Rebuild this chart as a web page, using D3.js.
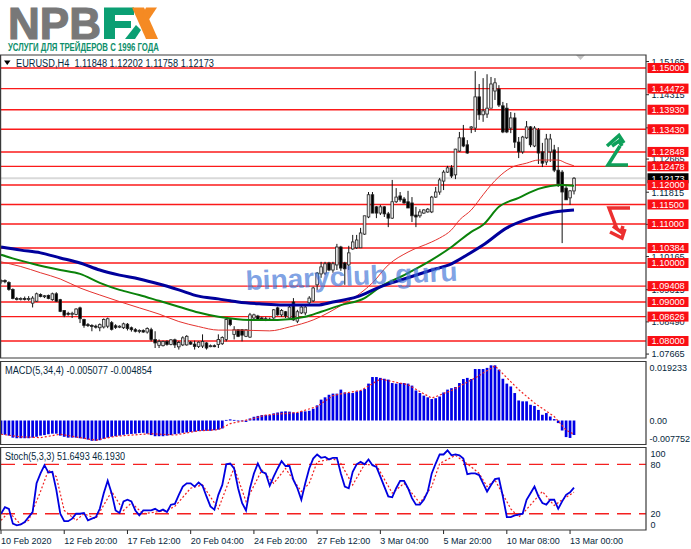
<!DOCTYPE html>
<html>
<head>
<meta charset="utf-8">
<script src="https://cdnjs.cloudflare.com/ajax/libs/d3/7.8.5/d3.min.js"></script>
<style>
html, body { margin: 0; padding: 0; background: #fff; }
svg { display: block; }
text { font-family: "Liberation Sans", sans-serif; }
</style>
</head>
<body>
<svg id="chart" width="691" height="549"></svg>
<script>
var opens = [
1.0952,1.0955,1.0950,1.0932,1.0909,1.0908,1.0909,1.0908,1.0897,1.0902,
1.0919,1.0914,1.0917,1.0906,1.0921,1.0906,1.0878,1.0871,1.0869,1.0868,
1.0885,1.0855,1.0842,1.0840,1.0838,1.0834,1.0836,1.0838,1.0847,1.0839,
1.0836,1.0834,1.0843,1.0834,1.0829,1.0825,1.0827,1.0823,1.0829,1.0804,
1.0789,1.0788,1.0799,1.0791,1.0803,1.0785,1.0790,1.0790,1.0797,1.0792,
1.0786,1.0787,1.0795,1.0786,1.0788,1.0791,1.0793,1.0804,1.0855,1.0817,
1.0829,1.0829,1.0812,1.0810,1.0859,1.0864,1.0859,1.0857,1.0856,1.0859,
1.0885,1.0867,1.0875,1.0859,1.0900,1.0851,1.0872,1.0872,1.0898,1.0903,
1.0944,1.0972,1.0974,1.1000,1.0982,1.0995,1.1041,1.1000,1.0995,1.1036,
1.1039,1.1039,1.1074,1.1118,1.1175,1.1144,1.1128,1.1144,1.1126,1.1115,
1.1157,1.1172,1.1164,1.1157,1.1154,1.1123,1.1121,1.1128,1.1131,1.1131,
1.1169,1.1182,1.1210,1.1233,1.1244,1.1226,1.1287,1.1321,1.1303,1.1346,
1.1346,1.1426,1.1380,1.1382,1.1397,1.1441,1.1446,1.1403,1.1397,1.1346,
1.1372,1.1310,1.1285,1.1321,1.1349,1.1300,1.1341,1.1285,1.1259,1.1285,
1.1290,1.1238,1.1233,1.1192,1.1167,1.11848];
var highs = [
1.0958,1.0958,1.0953,1.0935,1.0913,1.0912,1.0914,1.0915,1.0915,1.0924,
1.0922,1.0918,1.0919,1.0924,1.0925,1.0908,1.0879,1.0875,1.0875,1.0884,
1.0888,1.0857,1.0846,1.0843,1.0842,1.0845,1.0858,1.0860,1.0851,1.0843,
1.0840,1.0847,1.0846,1.0837,1.0833,1.0830,1.0830,1.0835,1.0834,1.0825,
1.0804,1.0801,1.0802,1.0805,1.0806,1.0800,1.0812,1.0815,1.0800,1.0801,
1.0799,1.0817,1.0797,1.0791,1.0791,1.0817,1.0812,1.0859,1.0859,1.0838,
1.0829,1.0830,1.0829,1.0872,1.0870,1.0867,1.0862,1.0862,1.0860,1.0882,
1.0888,1.0882,1.0877,1.0890,1.0910,1.0880,1.0892,1.0890,1.0915,1.0939,
1.0977,1.1003,1.1003,1.1003,1.1003,1.1049,1.1044,1.1003,1.1044,1.1072,
1.1072,1.1090,1.1121,1.1182,1.1182,1.1146,1.1149,1.1146,1.1131,1.1213,
1.1192,1.1182,1.1169,1.1185,1.1169,1.1144,1.1138,1.1138,1.1141,1.1172,
1.1195,1.1218,1.1238,1.1249,1.1251,1.1293,1.1336,1.1354,1.1315,1.1351,
1.1492,1.1459,1.1474,1.1484,1.1477,1.1474,1.1456,1.1413,1.1410,1.1387,
1.1385,1.1323,1.1326,1.1364,1.1351,1.1351,1.1346,1.1308,1.1331,1.1331,
1.1303,1.1297,1.1238,1.1197,1.1187,1.12202];
var lows = [
1.0947,1.0948,1.0929,1.0907,1.0904,1.0904,1.0904,1.0903,1.0886,1.0900,
1.0912,1.0910,1.0907,1.0903,1.0900,1.0874,1.0861,1.0865,1.0859,1.0866,
1.0846,1.0834,1.0836,1.0825,1.0832,1.0825,1.0832,1.0833,1.0827,1.0831,
1.0833,1.0831,1.0827,1.0824,1.0822,1.0820,1.0821,1.0819,1.0799,1.0782,
1.0782,1.0786,1.0788,1.0789,1.0782,1.0778,1.0787,1.0788,1.0790,1.0778,
1.0782,1.0782,1.0778,1.0784,1.0784,1.0782,1.0790,1.0799,1.0838,1.0804,
1.0810,1.0799,1.0810,1.0808,1.0856,1.0852,1.0854,1.0851,1.0852,1.0857,
1.0865,1.0862,1.0859,1.0855,1.0852,1.0846,1.0869,1.0866,1.0895,1.0900,
1.0931,1.0962,1.0969,1.0979,1.0975,1.0982,1.0980,1.0944,1.0982,1.1034,
1.1036,1.1039,1.1072,1.1115,1.1128,1.1115,1.1123,1.1118,1.1092,1.1113,
1.1154,1.1157,1.1152,1.1141,1.1105,1.1092,1.1116,1.1126,1.1129,1.1128,
1.1167,1.1175,1.1187,1.1231,1.1218,1.1215,1.1285,1.1297,1.1280,1.1333,
1.1336,1.1367,1.1362,1.1372,1.1397,1.1418,1.1400,1.1333,1.1333,1.1333,
1.1295,1.1269,1.1280,1.1318,1.1297,1.1297,1.1254,1.1246,1.1251,1.1259,
1.1233,1.1195,1.1051,1.1162,1.1149,1.11758];
var closes = [
1.0955,1.0952,1.0932,1.0909,1.0908,1.0909,1.0908,1.0909,1.0910,1.0921,
1.0914,1.0916,1.0909,1.0921,1.0902,1.0876,1.0866,1.0869,1.0871,1.0882,
1.0857,1.0840,1.0840,1.0838,1.0836,1.0842,1.0855,1.0857,1.0830,1.0835,
1.0838,1.0844,1.0832,1.0829,1.0825,1.0827,1.0823,1.0832,1.0804,1.0795,
1.0799,1.0799,1.0791,1.0803,1.0790,1.0796,1.0808,1.0812,1.0792,1.0786,
1.0797,1.0799,1.0782,1.0788,1.0786,1.0804,1.0809,1.0855,1.0842,1.0829,
1.0812,1.0815,1.0829,1.0867,1.0867,1.0854,1.0857,1.0856,1.0854,1.0880,
1.0867,1.0878,1.0864,1.0887,1.0854,1.0875,1.0887,1.0887,1.0910,1.0936,
1.0974,1.0990,1.0998,1.0982,1.0998,1.1041,1.0987,1.0985,1.1026,1.1054,
1.1059,1.1077,1.1121,1.1175,1.1128,1.1128,1.1144,1.1126,1.1115,1.1157,
1.1169,1.1162,1.1154,1.1141,1.1121,1.1118,1.1131,1.1136,1.1138,1.1169,
1.1182,1.1213,1.1233,1.1244,1.1223,1.1292,1.1321,1.1300,1.1282,1.1349,
1.1426,1.1380,1.1390,1.1397,1.1459,1.1462,1.1405,1.1336,1.1336,1.1372,
1.1310,1.1285,1.1323,1.1349,1.1303,1.1346,1.1282,1.1256,1.1318,1.1318,
1.1238,1.1203,1.1182,1.1162,1.1185,1.12173];

// moving averages, read at a few bars each
var blueBars = [0,5,10,15,20,25,30,35,40,45,50,55,58,60,66,75,80,84,90,96,102,109,114,118,122,128,134,140,145];
var blueVals = [1.1041,1.1033,1.1026,1.1013,1.1000,1.0982,1.0969,1.0959,1.0946,1.0931,1.0915,1.0908,1.0903,1.0900,1.0895,1.0892,1.0892,1.0900,1.0913,1.0939,1.0959,1.0982,1.0998,1.1021,1.1046,1.1090,1.1115,1.1131,1.1136];
var greenBars = [0,5,8,15,20,25,30,35,40,45,50,55,63,70,77,81,86,92,96,102,109,114,119,122,126,131,136,142,145];
var greenVals = [1.1021,1.1006,1.0998,1.0982,1.0972,1.0949,1.0931,1.0918,1.0903,1.0888,1.0873,1.0862,1.0854,1.0854,1.0862,1.0875,1.0892,1.0910,1.0939,1.0969,1.1008,1.1041,1.1080,1.1098,1.1144,1.1167,1.1190,1.1200,1.1198];
var redBars = [0,5,10,15,20,25,30,35,40,45,50,55,60,68,73,79,87,91,94,98,103,109,111,114,116,119,122,124,126,129,133,136,141,143,145];
var redVals = [1.1003,1.0991,1.0975,1.0959,1.0936,1.0918,1.0901,1.0885,1.0869,1.0850,1.0837,1.0828,1.0828,1.0826,1.0836,1.0854,1.0897,1.0923,1.0949,1.0995,1.1028,1.1054,1.1064,1.1085,1.1110,1.1136,1.1175,1.1200,1.1221,1.1244,1.1256,1.1264,1.1264,1.1256,1.1249];

var levels = [1.15000,1.14472,1.13930,1.13430,1.12848,1.12478,1.12000,1.11500,1.11000,1.10384,1.10000,1.09408,1.09000,1.08626,1.08000];
var priceTicks = [1.15165,1.14315,1.13465,1.12665,1.11815,1.10990,1.10165,1.09315,1.08490,1.07665];
var lastPrice = 1.12173;

var macdVals = [
-.0048,-.0050,-.0053,-.0060,-.0062,-.0062,-.0062,-.0062,-.0060,-.0057,
-.0053,-.0051,-.0048,-.0046,-.0046,-.0053,-.0057,-.0060,-.0060,-.0060,
-.0062,-.0064,-.0067,-.0071,-.0071,-.0069,-.0064,-.0060,-.0057,-.0055,
-.0053,-.0050,-.0048,-.0047,-.0046,-.0044,-.0043,-.0046,-.0051,-.0055,
-.0055,-.0055,-.0053,-.0051,-.0048,-.0046,-.0043,-.0042,-.0040,-.0039,
-.0037,-.0036,-.0036,-.0036,-.0034,-.0032,-.0028,.0002,.0004,.0002,
-.0001,-.0002,-.0005,.0007,.0013,.0016,.0019,.0019,.0019,.0025,
.0028,.0031,.0032,.0031,.0028,.0027,.0032,.0032,.0034,.0041,
.0053,.0073,.0081,.0090,.0094,.0094,.0108,.0098,.0096,.0096,
.0102,.0104,.0110,.0129,.0152,.0152,.0149,.0146,.0143,.0131,
.0129,.0131,.0131,.0129,.0122,.0105,.0096,.0087,.0081,.0075,
.0078,.0084,.0098,.0108,.0113,.0117,.0131,.0145,.0149,.0145,
.0180,.0180,.0180,.0184,.0193,.0193,.0178,.0146,.0129,.0119,
.0096,.0070,.0067,.0067,.0055,.0051,.0037,.0020,.0026,.0014,
.0005,-.0009,-.0035,-.0058,-.0061,-.005077];
var macdSignalBars = [0,5,10,15,20,24,29,38,44,50,55,58,63,67,75,76,80,84,87,91,96,103,109,114,120,125,131,135,140,143,145];
var macdSignalVals = [-.0048,-.0057,-.0060,-.0048,-.0060,-.0069,-.0055,-.0046,-.0051,-.0036,-.0032,-.0011,.0004,.0019,.0028,.0032,.0049,.0087,.0096,.0105,.0145,.0125,.0078,.0105,.0149,.0191,.0108,.0061,.0014,-.0033,-.004854];
var macdTicks = [0.019233, 0, -0.0062];
var macdTickLabels = ["0.019233", "0.00", "-0.007752"];

var stochMain = [
20,28,26,8,6,7,10,16,22,57,
69,79,70,71,49,20,11,11,14,20,
20,21,12,14,16,26,45,60,45,24,
21,35,37,35,24,18,24,24,24,26,
23,25,22,31,32,43,53,57,57,53,
58,54,41,29,25,43,55,80,81,75,
51,33,24,51,69,81,71,69,54,65,
75,84,78,78,61,51,37,57,75,87,
92,88,89,86,88,88,69,53,51,71,
80,83,80,86,79,77,65,53,41,40,
51,60,60,51,39,31,31,37,47,69,
81,92,92,97,91,92,91,87,68,69,
69,67,57,47,55,62,63,41,16,16,
18,19,20,37,45,53,41,33,31,37,
37,26,35,43,46,51.6493];
var stochSignalBars = [0,2,5,7,10,12,14,16,19,21,24,28,31,33,36,42,44,48,51,55,59,62,66,69,72,76,78,80,84,86,89,92,95,99,102,106,109,111,115,119,121,123,125,129,131,132,137,140,142,145];
var stochSignalVals = [12,22,7,12,47,73,65,24,12,20,14,47,24,33,20,24,29,51,55,26,76,35,73,57,75,47,57,83,87,81,55,80,79,45,57,33,53,81,91,77,69,53,61,26,16,20,47,30,37,46.193];
var stochTicks = [100, 80, 20, 0];

var dateBars = [0,16,32,48,64,80,96,112,128,144];
var dateLabels = ["10 Feb 2020","12 Feb 20:00","17 Feb 12:00","20 Feb 04:00","24 Feb 20:00","27 Feb 12:00","3 Mar 04:00","5 Mar 20:00","10 Mar 08:00","13 Mar 00:00"];

var frameRight = 646, labelX = 649.5, axisFont = 9.2;
var textColor = "#06283d";
var svg = d3.select("#chart");

var x = d3.scaleLinear().domain([0, 145]).range([1, 574]);
var yPrice = d3.scaleLinear().domain([1.08, 1.15]).range([341, 68]);
var yMacd = d3.scaleLinear().domain([0, 0.019233]).range([420.5, 365.5]);
var yStoch = d3.scaleLinear().domain([0, 100]).range([530.2, 447.9]);

drawLogo();
drawMain();
drawMacd();
drawStoch();
drawFrame();
drawArrows();

function drawLogo() {
    var logo = svg.append("g");
    logo.append("text")
        .attr("x", 8).attr("y", 39)
        .attr("font-size", 45).attr("font-weight", "bold")
        .attr("fill", "#787878").attr("stroke", "#787878").attr("stroke-width", 1.2)
        .attr("textLength", 93).attr("lengthAdjust", "spacingAndGlyphs")
        .text("NPB");
    logo.append("path")
        .attr("d", "M104,7.5H134V15H115V21H131V28H115V39H104Z")
        .attr("fill", "#0b9f73");
    logo.append("path")
        .attr("d", "M132,7.5H144L158,39H146Z")
        .attr("fill", "#f58a23");
    logo.append("path")
        .attr("d", "M146,7.5H157L148,21L142,16Z")
        .attr("fill", "#f58a23");
    logo.append("path")
        .attr("d", "M136,25L141,30L135,39H125Z")
        .attr("fill", "#0b9f73");
    logo.append("text")
        .attr("x", 8).attr("y", 51)
        .attr("font-size", 10).attr("font-weight", "bold")
        .attr("fill", "#0d8f6b")
        .attr("textLength", 151).attr("lengthAdjust", "spacingAndGlyphs")
        .text("УСЛУГИ ДЛЯ ТРЕЙДЕРОВ С 1996 ГОДА");
}

function linePath(yScale) {
    return d3.line()
        .x(d => x(d[0]))
        .y(d => yScale(d[1]));
}

function drawMain() {
    var main = svg.append("g");

    main.append("line")
        .attr("x1", 0).attr("x2", frameRight)
        .attr("y1", yPrice(lastPrice)).attr("y2", yPrice(lastPrice))
        .attr("stroke", "#d9d9d9").attr("stroke-width", 2);

    main.selectAll(".level")
        .data(levels)
        .enter()
        .append("line")
            .classed("level", true)
            .attr("x1", 0).attr("x2", frameRight)
            .attr("y1", d => yPrice(d)).attr("y2", d => yPrice(d))
            .attr("stroke", "#fb1a1a").attr("stroke-width", 1.4);

    var bars = d3.range(opens.length);
    main.selectAll(".wick")
        .data(bars)
        .enter()
        .append("line")
            .classed("wick", true)
            .attr("x1", d => x(d)).attr("x2", d => x(d))
            .attr("y1", d => yPrice(highs[d])).attr("y2", d => yPrice(lows[d]))
            .attr("stroke", "#111").attr("stroke-width", 1);
    main.selectAll(".body")
        .data(bars)
        .enter()
        .append("rect")
            .classed("body", true)
            .attr("x", d => x(d) - 1.3)
            .attr("width", 2.6)
            .attr("y", d => yPrice(Math.max(opens[d], closes[d])))
            .attr("height", d => Math.max(1, Math.abs(yPrice(opens[d]) - yPrice(closes[d]))))
            .attr("fill", d => closes[d] >= opens[d] ? "#e8e8e8" : "#000")
            .attr("stroke", "#222").attr("stroke-width", 0.8);

    var maLine = linePath(yPrice).curve(d3.curveMonotoneX);
    main.append("path")
        .attr("d", maLine(d3.zip(redBars, redVals)))
        .attr("fill", "none").attr("stroke", "#e4332f").attr("stroke-width", 1);
    main.append("path")
        .attr("d", maLine(d3.zip(greenBars, greenVals)))
        .attr("fill", "none").attr("stroke", "#0a820a").attr("stroke-width", 2);
    main.append("path")
        .attr("d", maLine(d3.zip(blueBars, blueVals)))
        .attr("fill", "none").attr("stroke", "#00009c").attr("stroke-width", 3);

    // watermark sits over the marks
    main.append("text")
        .attr("transform", "translate(246,290) rotate(-2.5)")
        .attr("font-size", 27).attr("font-weight", "bold")
        .attr("fill", "#3f74d6").attr("fill-opacity", 0.68)
        .attr("textLength", 212).attr("lengthAdjust", "spacingAndGlyphs")
        .text("binaryclub.guru");

    // title row
    main.append("path")
        .attr("d", "M4,60.5H10.5L7.25,65Z")
        .attr("fill", "#000");
    main.append("text")
        .attr("x", 16).attr("y", 66.5)
        .attr("font-size", 10).attr("fill", textColor)
        .attr("xml:space", "preserve")
        .attr("textLength", 198).attr("lengthAdjust", "spacingAndGlyphs")
        .text("EURUSD,H4  1.11848 1.12202 1.11758 1.12173");
    main.append("path")
        .attr("d", "M576,55H585L580.5,60Z")
        .attr("fill", "#c4c4c4");

    // right scale: plain ticks first, then the boxes on top of them
    main.selectAll(".price-tick")
        .data(priceTicks)
        .enter()
        .append("text")
            .classed("price-tick", true)
            .attr("x", labelX + 2)
            .attr("y", d => yPrice(d) + 3.3)
            .attr("font-size", axisFont).attr("fill", textColor)
            .text(d => d3.format(".5f")(d));
    main.selectAll(".price-dash")
        .data(priceTicks)
        .enter()
        .append("line")
            .classed("price-dash", true)
            .attr("x1", frameRight).attr("x2", frameRight + 3)
            .attr("y1", d => yPrice(d)).attr("y2", d => yPrice(d))
            .attr("stroke", "#222");

    main.append("rect")
        .attr("x", frameRight + 1.5).attr("width", 41)
        .attr("y", yPrice(lastPrice) - 5).attr("height", 10)
        .attr("fill", "#000");
    main.append("text")
        .attr("x", labelX + 2).attr("y", yPrice(lastPrice) + 3.3)
        .attr("font-size", axisFont).attr("fill", "#fff")
        .text(d3.format(".5f")(lastPrice));

    var boxes = main.selectAll(".level-box")
        .data(levels)
        .enter()
        .append("g")
            .classed("level-box", true);
    boxes.append("rect")
        .attr("x", frameRight + 1.5).attr("width", 41)
        .attr("y", d => yPrice(d) - 5).attr("height", 10)
        .attr("fill", "#fa0f14");
    boxes.append("text")
        .attr("x", labelX + 2)
        .attr("y", d => yPrice(d) + 3.3)
        .attr("font-size", axisFont).attr("fill", "#fff")
        .text(d => d3.format(".5f")(d));
}

function drawMacd() {
    var pane = svg.append("g");
    pane.selectAll(".macd-bar")
        .data(macdVals)
        .enter()
        .append("rect")
            .classed("macd-bar", true)
            .attr("x", (d, i) => x(i) - 1.35)
            .attr("width", 2.7)
            .attr("y", d => Math.min(yMacd(d), yMacd(0)))
            .attr("height", d => Math.max(0.8, Math.abs(yMacd(d) - yMacd(0))))
            .attr("fill", "#0000e6");
    pane.append("path")
        .attr("d", linePath(yMacd)(d3.zip(macdSignalBars, macdSignalVals)))
        .attr("fill", "none").attr("stroke", "#f02020").attr("stroke-width", 1.2)
        .attr("stroke-dasharray", "2,2");
    pane.append("text")
        .attr("x", 5).attr("y", 373.5)
        .attr("font-size", 10).attr("fill", textColor)
        .attr("textLength", 147).attr("lengthAdjust", "spacingAndGlyphs")
        .text("MACD(5,34,4) -0.005077 -0.004854");
    pane.selectAll(".macd-label")
        .data(macdTicks)
        .enter()
        .append("text")
            .classed("macd-label", true)
            .attr("x", labelX)
            .attr("y", d => yMacd(d) + 3.3 + (d > 0 ? 2 : 0))
            .attr("font-size", 9).attr("fill", textColor)
            .text((d, i) => macdTickLabels[i]);
}

function drawStoch() {
    var pane = svg.append("g");
    pane.selectAll(".stoch-level")
        .data([80, 20])
        .enter()
        .append("line")
            .classed("stoch-level", true)
            .attr("x1", 1).attr("x2", frameRight)
            .attr("y1", d => yStoch(d)).attr("y2", d => yStoch(d))
            .attr("stroke", "#f42020").attr("stroke-width", 1.3)
            .attr("stroke-dasharray", "14,8");
    pane.append("path")
        .attr("d", linePath(yStoch)(d3.zip(stochSignalBars, stochSignalVals)))
        .attr("fill", "none").attr("stroke", "#f02020").attr("stroke-width", 1.2)
        .attr("stroke-dasharray", "2,2");
    pane.append("path")
        .attr("d", linePath(yStoch)(stochMain.map((d, i) => [i, d])))
        .attr("fill", "none").attr("stroke", "#0000e0").attr("stroke-width", 1.8);
    pane.append("text")
        .attr("x", 5).attr("y", 459.5)
        .attr("font-size", 10).attr("fill", textColor)
        .attr("textLength", 120).attr("lengthAdjust", "spacingAndGlyphs")
        .text("Stoch(5,3,3) 51.6493 46.1930");
    pane.selectAll(".stoch-label")
        .data(stochTicks)
        .enter()
        .append("text")
            .classed("stoch-label", true)
            .attr("x", labelX + 1)
            .attr("y", d => yStoch(d) + 3.3 + (d == 100 ? 6 : d == 0 ? -6 : 0))
            .attr("font-size", 9).attr("fill", textColor)
            .text(d => d);
    var dates = svg.append("g");
    dates.selectAll(".date-tick")
        .data(dateBars)
        .enter()
        .append("line")
            .classed("date-tick", true)
            .attr("x1", d => x(d)).attr("x2", d => x(d))
            .attr("y1", 530).attr("y2", 534)
            .attr("stroke", "#222");
    dates.selectAll(".date-label")
        .data(dateBars)
        .enter()
        .append("text")
            .classed("date-label", true)
            .attr("x", d => x(d))
            .attr("y", 543.5)
            .attr("font-size", 9).attr("fill", textColor)
            .text((d, i) => dateLabels[i]);
}

function drawFrame() {
    var frame = svg.append("g")
        .attr("fill", "none").attr("stroke", "#3a3a3a").attr("stroke-width", 1.2);
    frame.append("path").attr("d", "M0.6,55H" + frameRight + "V358H0.6Z");
    frame.append("path").attr("d", "M0.6,361.5H" + frameRight + "V444.5H0.6Z");
    frame.append("path").attr("d", "M0.6,447.5H" + frameRight + "V530H0.6Z");
}

function drawArrows() {
    var up = svg.append("g")
        .attr("fill", "none").attr("stroke", "#0ea05a").attr("stroke-width", 3.5);
    up.append("path").attr("d", "M628,165H608L620,146");
    up.append("path").attr("d", "M607,146L619,135.5L624,143");
    up.append("path").attr("d", "M612,146L619,141L622,146");
    var down = svg.append("g")
        .attr("fill", "none").attr("stroke", "#ec2f2f").attr("stroke-width", 3.5);
    down.append("path").attr("d", "M630,208H609L617,229");
    down.append("path").attr("d", "M610,232L622,238L625,229");
    down.append("path").attr("d", "M613,226L621,232L623,226");
}
</script>
</body>
</html>
